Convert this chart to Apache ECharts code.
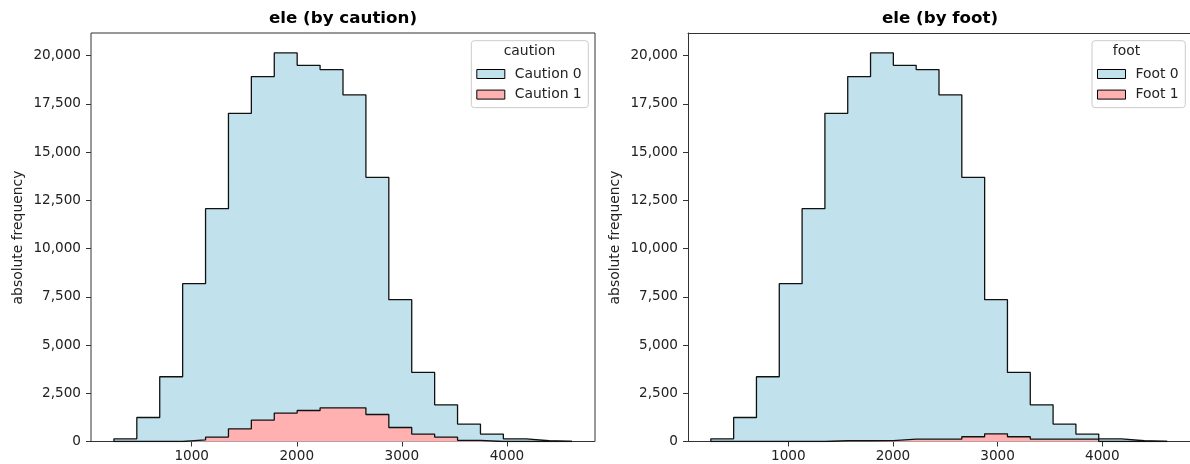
<!DOCTYPE html>
<html><head><meta charset="utf-8">
<script src="https://cdn.jsdelivr.net/npm/echarts@6/dist/echarts.min.js"></script>
<style>html,body{margin:0;padding:0;background:#fff}#c{width:1190px;height:464px}</style>
</head><body><div id="c"></div>
<script>
// Histogram bin edges (elevation)
const binEdges = [260, 478, 696, 914, 1132, 1350, 1568, 1786, 2004, 2222, 2440, 2658, 2876, 3094, 3312, 3530, 3748, 3966, 4184, 4402, 4620];
// Counts per bin (stacked: level 1 at bottom, level 0 on top)
const caution0 = [140, 1245, 3355, 8097, 11838, 16349, 17801, 18667, 17890, 17527, 16215, 12289, 6622, 3194, 1675, 842, 384, 140, 40, 10];
const caution1 = [0, 0, 0, 80, 228, 659, 1110, 1473, 1607, 1747, 1747, 1400, 726, 384, 228, 60, 0, 0, 0, 0];
const foot0 = [140, 1245, 3355, 8177, 12066, 16968, 18871, 20090, 19372, 19149, 17837, 13444, 6948, 3333, 1778, 777, 259, 140, 40, 10];
const foot1 = [0, 0, 0, 0, 0, 40, 40, 50, 125, 125, 125, 245, 400, 245, 125, 125, 125, 0, 0, 0];
const xTicks = [1000, 2000, 3000, 4000];
const yTicks = [0, 2500, 5000, 7500, 10000, 12500, 15000, 17500, 20000];
const chartTitles = ['ele (by caution)', 'ele (by foot)'];
const legendTitles = ['caution', 'foot'];
const seriesNames = [['Caution 0', 'Caution 1'], ['Foot 0', 'Foot 1']];

const FONT = '"DejaVu Sans", sans-serif';
const BLUE = '#c1e1ec', PINK = '#ffb1b1', EDGE = '#111', TXT = '#222', SPINE = '#333';

function stepPoints(vals) {
  const n = binEdges.length - 1;
  const pts = [[binEdges[0], 0]];
  for (let i = 0; i < n; i++) pts.push([binEdges[i], vals[i]]);
  pts.push([binEdges[n], vals[n - 1]]);
  pts.push([binEdges[n], 0]);
  return pts;
}

const panels = [
  {left: 91, lo: caution1, hi: caution0, names: seriesNames[0], box: true},
  {left: 688, lo: foot1, hi: foot0, names: seriesNames[1], box: false}
];
const plotW = 504, plotTop = 33, plotBottom = 22.5;

const grid = [], xAxis = [], yAxis = [], series = [], legend = [], graphic = [];
panels.forEach((p, k) => {
  grid.push({left: p.left, top: plotTop, width: plotW, bottom: plotBottom, show: p.box,
    borderColor: SPINE, borderWidth: 1, backgroundColor: 'transparent', containLabel: false});
  xAxis.push({type: 'value', gridIndex: k, min: 42, max: 4838,
    axisLine: {show: !p.box, lineStyle: {color: SPINE, width: 1}}, splitLine: {show: false},
    axisTick: {show: true, length: 5, lineStyle: {color: SPINE, width: 1}, customValues: xTicks},
    axisLabel: {customValues: xTicks, margin: 8, fontFamily: FONT, fontSize: 13.6, color: TXT,
      formatter: v => String(v)}});
  yAxis.push({type: 'value', gridIndex: k, min: 0, max: 21170,
    axisLine: {show: !p.box, lineStyle: {color: SPINE, width: 1}}, splitLine: {show: false},
    axisTick: {show: true, length: 5, lineStyle: {color: SPINE, width: 1}, customValues: yTicks},
    axisLabel: {customValues: yTicks, margin: 10, fontFamily: FONT, fontSize: 13.6, color: TXT,
      formatter: v => Number(v).toLocaleString('en-US')}});
  const total = p.hi.map((v, i) => v + p.lo[i]);
  series.push({type: 'line', name: p.names[0], xAxisIndex: k, yAxisIndex: k, step: 'end',
    data: stepPoints(total), symbol: 'none', silent: true, z: 2,
    lineStyle: {color: EDGE, width: 1.3}, itemStyle: {color: BLUE},
    areaStyle: {color: BLUE, opacity: 1}});
  series.push({type: 'line', name: p.names[1], xAxisIndex: k, yAxisIndex: k, step: 'end',
    data: stepPoints(p.lo), symbol: 'none', silent: true, z: 3,
    lineStyle: {color: EDGE, width: 1.3}, itemStyle: {color: PINK},
    areaStyle: {color: PINK, opacity: 1}});
  const boxRight = p.left + plotW - 6.7;
  legend.push({orient: 'vertical', right: 1190 - boxRight, top: 40.7, icon: 'rect',
    itemWidth: 28, itemHeight: 9, itemGap: 6.6, padding: [26.3, 6.6, 6, 5],
    backgroundColor: 'rgba(255,255,255,0.8)', borderColor: '#cccccc', borderWidth: 1, borderRadius: 3,
    selectedMode: false,
    textStyle: {fontFamily: FONT, fontSize: 13.9, color: TXT, lineHeight: 14, padding: [0, 0, 0, 5]},
    itemStyle: {borderColor: '#000', borderWidth: 1},
    data: [{name: p.names[0], itemStyle: {color: BLUE}}, {name: p.names[1], itemStyle: {color: PINK}}]});
  graphic.push({type: 'text', x: p.left + plotW / 2, y: 18.3, z: 100,
    style: {text: chartTitles[k], align: 'center', verticalAlign: 'middle',
      fontFamily: FONT, fontSize: 16.7, fontWeight: 'bold', fill: '#000'}});
  graphic.push({type: 'text', x: boxRight - 58.8, y: 51.7, z: 100,
    style: {text: legendTitles[k], align: 'center', verticalAlign: 'middle',
      fontFamily: FONT, fontSize: 13.9, fill: TXT}});
  graphic.push({type: 'text', x: p.left - 72.6, y: 237.5, rotation: Math.PI / 2, z: 100,
    style: {text: 'absolute frequency', align: 'center', verticalAlign: 'middle',
      fontFamily: FONT, fontSize: 13.9, fill: TXT}});
});
// top spine of the right panel (its right spine lies outside the picture)
xAxis.push({type: 'value', gridIndex: 1, position: 'top', min: 42, max: 4838,
  axisLine: {show: true, onZero: false, lineStyle: {color: SPINE, width: 1}},
  axisTick: {show: false}, axisLabel: {show: false}, splitLine: {show: false}});

const chart = echarts.init(document.getElementById('c'), null, {renderer: 'canvas'});
chart.setOption({animation: false, backgroundColor: '#fff', grid, xAxis, yAxis, series, legend, graphic});
</script></body></html>
